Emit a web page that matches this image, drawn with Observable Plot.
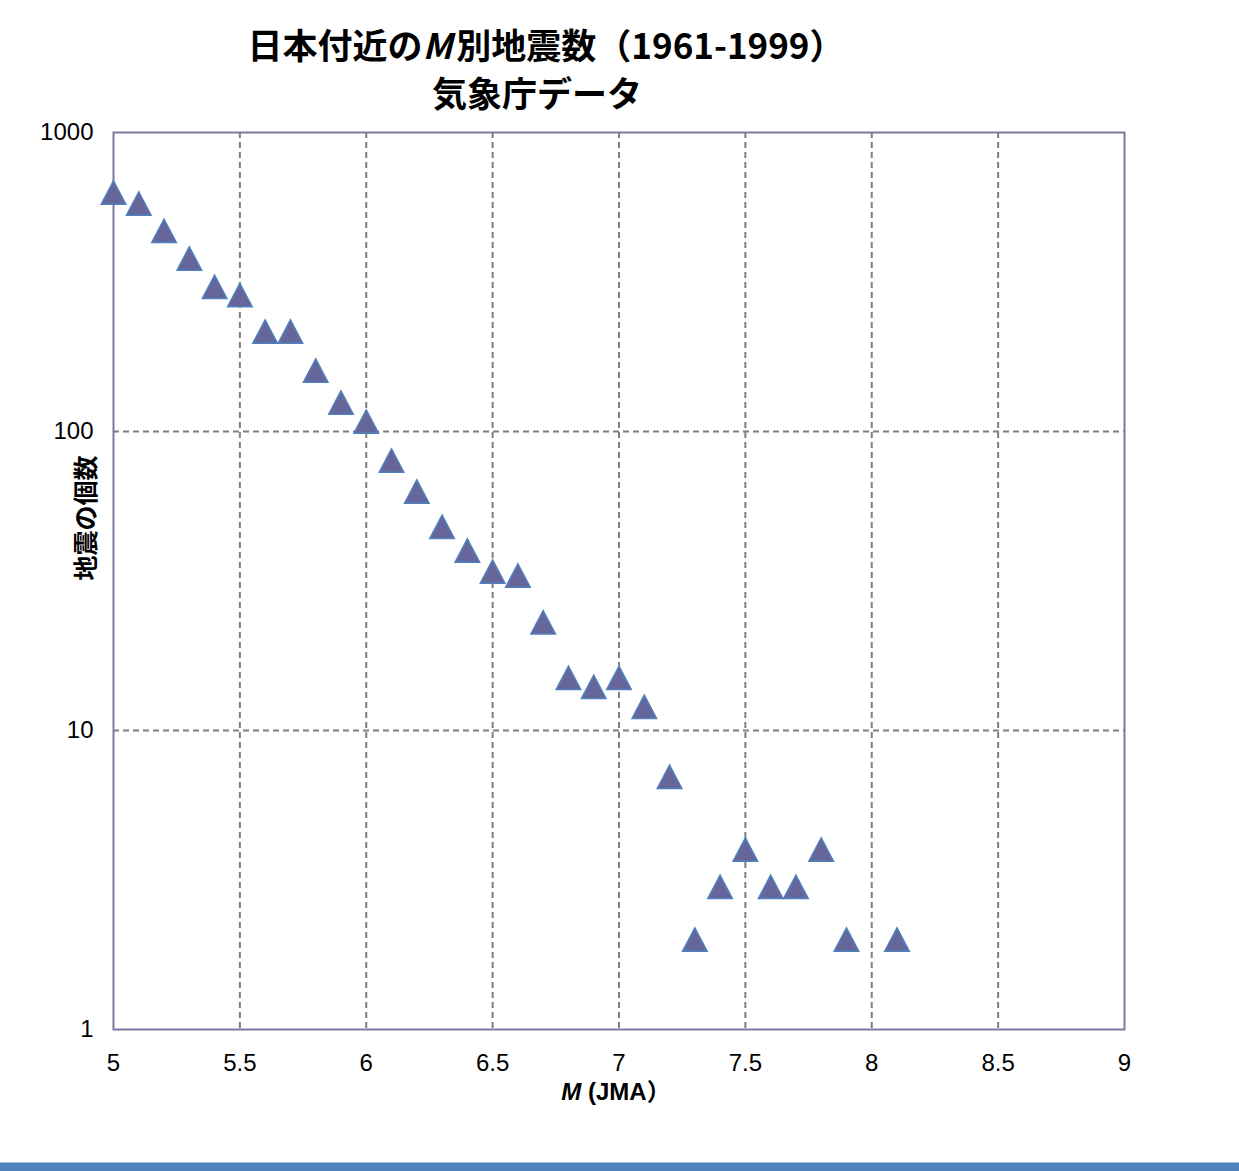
<!DOCTYPE html>
<html>
<head>
<meta charset="utf-8">
<script src="https://cdn.jsdelivr.net/npm/d3@7"></script>
<script src="https://cdn.jsdelivr.net/npm/@observablehq/plot@0.6"></script>
<style>
  html, body { margin: 0; padding: 0; background: #fff; }
  #wrap { position: relative; width: 1239px; height: 1171px; overflow: hidden; background: #fff; }
  .title { position: absolute; left: 0; width: 1074px; text-align: center;
           font-family: "Noto Sans CJK JP", sans-serif; font-weight: bold; font-size: 35px; color: #000; line-height: 1; white-space: nowrap; }
  .title i { margin-right: 4px; }
  #chart { position: absolute; left: 0; top: 120px; }
  #xlabel { position: absolute; left: 516px; width: 200px; top: 1080px; text-align: center;
            font-family: "Liberation Sans", Arial, "Noto Sans CJK JP", sans-serif; font-weight: bold; font-size: 24px; line-height: 1; white-space: nowrap; }
  #ylabel { position: absolute; left: 84px; top: 518px; transform: translate(-50%, -50%) rotate(-90deg);
            font-family: "Noto Sans CJK JP", sans-serif; font-weight: bold; font-size: 25px; line-height: 1; white-space: nowrap; }
  #bar { position: absolute; left: 0; top: 1162px; width: 1239px; height: 9px; background: #4f81bd; border-top: 1px solid #a7bedc; }
</style>
</head>
<body>
<div id="wrap">
  <div class="title" style="top:26px; left:9px">日本付近の<i>M</i>別地震数（1961-1999）</div>
  <div class="title" style="top:74px">気象庁データ</div>
  <div id="chart"></div>
  <div id="ylabel">地震の個数</div>
  <div id="xlabel"><i>M</i> (JMA）</div>
  <div id="bar"></div>
</div>
<script>
// Magnitude classes and earthquake counts
const magnitudes = [5.0, 5.1, 5.2, 5.3, 5.4, 5.5, 5.6, 5.7, 5.8, 5.9,
                    6.0, 6.1, 6.2, 6.3, 6.4, 6.5, 6.6, 6.7, 6.8, 6.9,
                    7.0, 7.1, 7.2, 7.3, 7.4, 7.5, 7.6, 7.7, 7.8, 7.9, 8.1];
const counts = [630, 579, 469, 379, 305, 286, 216, 216, 160, 125,
                108, 80, 63, 48, 40, 34, 33, 23, 15, 14,
                15, 12, 7, 2, 3, 4, 3, 3, 4, 2, 2];
const xTicks = [5, 5.5, 6, 6.5, 7, 7.5, 8, 8.5, 9];
const yTicks = [1, 10, 100, 1000];
const xGrid = [5.5, 6, 6.5, 7, 7.5, 8, 8.5];
const yGrid = [10, 100];

const data = magnitudes.map((m, i) => ({m, n: counts[i]}));

// Excel-style triangle marker centred on its bounding box
const triangle = {
  draw(context, size) {
    const r = Math.sqrt(size / Math.PI);
    const w = r * 1.05, h = r;
    context.moveTo(0, -h);
    context.lineTo(w, h);
    context.lineTo(-w, h);
    context.closePath();
  }
};

const chart = Plot.plot({
  width: 1239,
  height: 1000,
  marginLeft: 113,
  marginRight: 115,
  marginTop: 12,
  marginBottom: 91,
  style: {fontFamily: "'Liberation Sans', Arial, sans-serif", fontSize: "24px", color: "#000", background: "#fff", overflow: "visible"},
  x: {domain: [5, 9], ticks: xTicks, tickFormat: d => String(d), tickSize: 0, tickPadding: 24, label: null},
  y: {type: "log", domain: [1, 1000], ticks: yTicks, tickFormat: d => String(d), tickSize: 0, tickPadding: 20, label: null},
  marks: [
    Plot.ruleX(xGrid, {stroke: "#7f7f7f", strokeWidth: 2, strokeDasharray: "6,4"}),
    Plot.ruleY(yGrid, {stroke: "#7f7f7f", strokeWidth: 2, strokeDasharray: "6,4"}),
    Plot.frame({stroke: "#7a7aa0", strokeWidth: 2}),
    Plot.dot(data, {x: "m", y: "n", symbol: triangle, r: 11.7, fill: "#66669a", fillOpacity: 1, stroke: "#4f81bd", strokeWidth: 1.5})
  ]
});
document.getElementById("chart").appendChild(chart);
</script>
</body>
</html>
